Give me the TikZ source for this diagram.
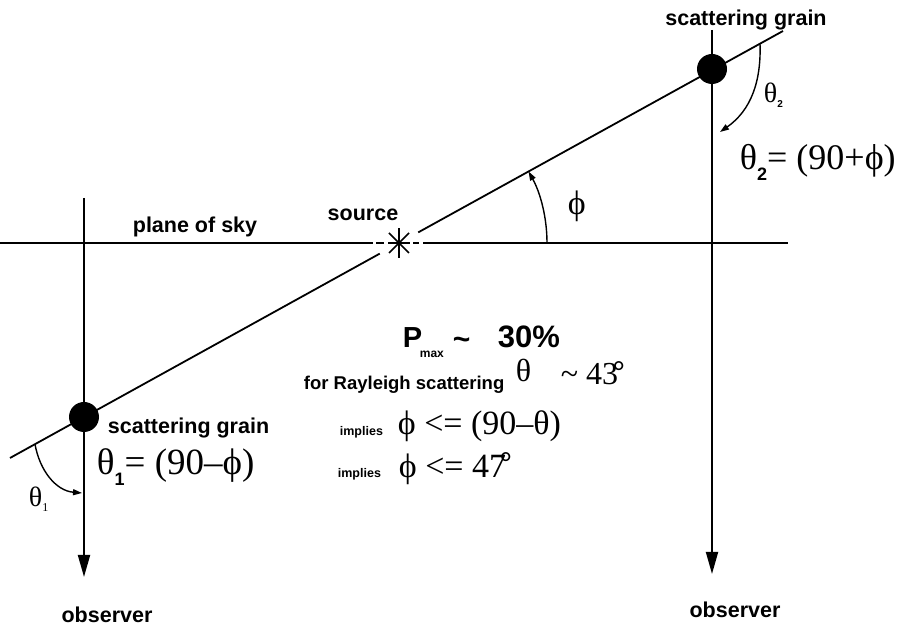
\documentclass[tikz,border=0pt]{standalone}
\usepackage{fontspec}
\setmainfont{Liberation Serif}
\newfontfamily\hel{Liberation Sans}
\usetikzlibrary{arrows.meta,calc}
\newcommand{\fsz}[1]{\fontsize{#1}{#1}\selectfont}
\begin{document}
\begin{tikzpicture}[x=1pt,y=1pt,line width=1.8pt,
  lbl/.style={font=\hel\bfseries\fsz{21.5},inner sep=0},
  ser/.style={font=\fsz{36},inner sep=0,anchor=base west},
  grainstyle/.style={circle,fill=black,minimum size=30pt,inner sep=0},
  obsarrow/.style={-{Triangle[length=22pt,width=12pt]}},
  arcarrow/.style={line width=1.4pt,-{Triangle[length=9pt,width=6pt]}}]
\useasboundingbox (0,0) rectangle (906,626);
\coordinate (src) at (399,383);
\coordinate (oA) at (10,168);
\coordinate (oB) at (783,595);
\coordinate (pL) at (0,383);
\coordinate (pR) at (788,383);
\coordinate (v1t) at (84,428);
\coordinate (v1b) at (84,49);
\coordinate (v2t) at (712,596);
\coordinate (v2b) at (712,52);
% plane of sky, broken near the source
\draw (pL) -- ([xshift=-26pt]src);
\draw ([xshift=-23pt]src) -- ([xshift=-15pt]src);
\draw ([xshift=14pt]src) -- ([xshift=20pt]src);
\draw ([xshift=24pt]src) -- (pR);
% line of scattering
\draw (oA) -- ($(src)!22pt!(oA)$);
\draw ($(src)!22pt!(oB)$) -- (oB);
% source star
\draw[line width=1.5pt] ([yshift=-15pt]src) -- ([yshift=15pt]src);
\draw[line width=1.5pt] ([xshift=-11pt]src) -- ([xshift=11pt]src);
\draw[line width=1.5pt] ([shift={(-10pt,-10pt)}]src) -- ([shift={(10pt,10pt)}]src);
\draw[line width=1.5pt] ([shift={(-10pt,10pt)}]src) -- ([shift={(10pt,-10pt)}]src);
% lines of sight
\draw[obsarrow] (v1t) -- (v1b);
\draw[obsarrow] (v2t) -- (v2b);
\node[grainstyle] (g1) at (84,209) {};
\node[grainstyle] (g2) at (712,557) {};
% angle arcs
\coordinate (a1s) at (35,181.8);
\coordinate (a1e) at (82,133);
\draw[arcarrow] (a1s) to[out=-80,in=175] (a1e);
\coordinate (a2s) at (760,582.3);
\coordinate (a2e) at (720,494);
\draw[arcarrow] (a2s) to[out=-88,in=35] (a2e);
\draw[arcarrow] ([xshift=148pt]src) arc[start angle=0,end angle=28.9,radius=148pt];
% labels
\node[lbl] (sgtop) at (746,606) {scattering grain};
\node[lbl,anchor=west] (sgbot) at (107,198) {scattering grain};
\node[lbl] (plane) at (195,399) {plane of sky};
\node[lbl] (source) at (363,411) {source};
\node[lbl] (obs1) at (107,11) {observer};
\node[lbl] (obs2) at (735,16) {observer};
% angle labels
\node[ser,font=\fsz{28}] (th1) at (28,119) {θ\raisebox{-.15em}{\fsz{12}1}};
\node[ser,font=\fsz{28}] (th2) at (763,523) {θ\raisebox{-.15em}{\hel\bfseries\fsz{10}2}};
\node[ser,font=\fsz{34}] (phi) at (567,411) {ϕ};
\node[ser,font=\fsz{37}] (eq1) at (96,151) {θ\raisebox{-.28em}{\hel\bfseries\fsz{18}1}= (90–ϕ)};
\node[ser] (eq2) at (739,456) {θ\raisebox{-.28em}{\hel\bfseries\fsz{18}2}= (90+ϕ)};
% central text
\node[anchor=base west,font=\hel\bfseries\fsz{29},inner sep=0] (P) at (402,278) {P};
\node[anchor=base west,font=\hel\bfseries\fsz{12},inner sep=0] (max) at (419,268) {max};
\node[anchor=base west,font=\hel\bfseries\fsz{30},inner sep=0] (tl) at (452,276) {\textasciitilde};
\node[anchor=base west,font=\hel\bfseries\fsz{31},inner sep=0] (pct) at (497,278) {30\%};
\node[anchor=base west,font=\hel\bfseries\fsz{18.5},inner sep=0] (ray) at (303,236) {for Rayleigh scattering};
\node[ser,font=\fsz{32}] (th) at (515,244) {θ};
\node[ser,font=\fsz{32}] (t43) at (560,241) {\textasciitilde\ 43};
\node[ser,font=\bfseries\fsz{30}] (deg1) at (612,244) {°};
\node[anchor=base west,font=\hel\bfseries\fsz{12.5},inner sep=0] (imp1) at (339,190) {implies};
\node[ser,font=\fsz{34}] (in1) at (397,191) {ϕ <= (90–θ)};
\node[anchor=base west,font=\hel\bfseries\fsz{12.5},inner sep=0] (imp2) at (337,148) {implies};
\node[ser,font=\fsz{34}] (in2) at (398,148) {ϕ <= 47};
\node[ser,font=\bfseries\fsz{30}] (deg2) at (499,153) {°};
\end{tikzpicture}
\end{document}
